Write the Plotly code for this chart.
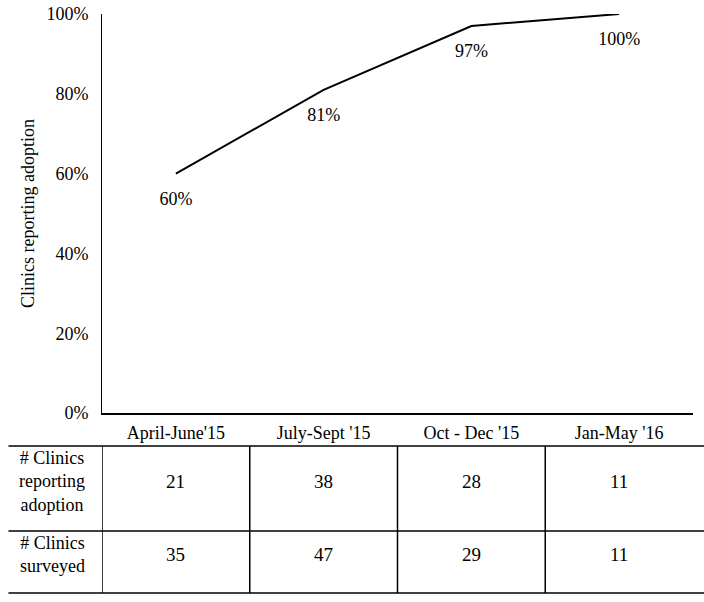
import plotly.graph_objects as go

periods = ["April-June'15", "July-Sept '15", "Oct - Dec '15", "Jan-May '16"]
adoption_pct = [0.60, 0.81, 0.97, 1.00]
adoption_labels = ["60%", "81%", "97%", "100%"]
clinics_adopting = [21, 38, 28, 11]
clinics_surveyed = [35, 47, 29, 11]
row_labels = ["# Clinics<br>reporting<br>adoption", "# Clinics<br>surveyed"]

W, H = 704, 602
FONT = "Liberation Serif, Times New Roman, serif"


def py(pix):
    # pixel row -> paper y
    return 1 - pix / H


fig = go.Figure()

fig.add_trace(
    go.Scatter(
        x=periods,
        y=adoption_pct,
        mode="lines+markers+text",
        text=adoption_labels,
        textposition="bottom center",
        textfont=dict(size=18, color="black", family=FONT),
        marker=dict(size=27, color="rgba(0,0,0,0)"),
        line=dict(color="black", width=2),
        cliponaxis=False,
        showlegend=False,
        hoverinfo="skip",
    )
)

# table below the chart
top, mid, bottom = 446, 531, 593
line_style = dict(color="black", width=1.5)
for yy in [top, mid, bottom]:
    fig.add_shape(type="line", xref="paper", yref="paper",
                  x0=0.012, x1=1, y0=py(yy), y1=py(yy), line=line_style)
for i in range(len(periods)):
    fig.add_shape(type="line", xref="x", yref="paper",
                  x0=i - 0.5, x1=i - 0.5, y0=py(top), y1=py(bottom), line=line_style)

row_y = [py(481), py(554)]
for label, yy in zip(row_labels, row_y):
    fig.add_annotation(x=52 / W, y=yy, xref="paper", yref="paper", text=label,
                       xanchor="center", yanchor="middle", showarrow=False,
                       font=dict(size=18, family=FONT, color="black"))
for values, yy in zip([clinics_adopting, clinics_surveyed], row_y):
    for p, v in zip(periods, values):
        fig.add_annotation(x=p, y=yy, xref="x", yref="paper", text=str(v),
                           xanchor="center", yanchor="middle", showarrow=False,
                           font=dict(size=19, family=FONT, color="black"))

fig.update_layout(
    width=W,
    height=H,
    margin=dict(l=0, r=0, t=0, b=0, autoexpand=False),
    paper_bgcolor="white",
    plot_bgcolor="white",
    font=dict(family=FONT, size=18, color="black"),
    xaxis=dict(
        domain=[102 / W, 693 / W],
        range=[-0.5, len(periods) - 0.5],
        automargin=False,
        showline=True,
        linecolor="black",
        linewidth=1.5,
        showgrid=False,
        ticks="",
        ticklabelstandoff=3,
        tickfont=dict(size=18),
    ),
    yaxis=dict(
        domain=[py(413), py(14)],
        automargin=False,
        range=[0, 1],
        tickvals=[0, 0.2, 0.4, 0.6, 0.8, 1.0],
        tickformat=".0%",
        showline=True,
        linecolor="black",
        linewidth=1,
        showgrid=False,
        zeroline=False,
        ticks="",
        ticklabelstandoff=9,
        title=dict(text="Clinics reporting adoption", standoff=7,
                   font=dict(size=18)),
    ),
)

# drop the browser's default 8px body margin so the figure fills the window
fig.write_html("out.html", config={"displayModeBar": False},
               post_script="document.body.style.margin='0';")
